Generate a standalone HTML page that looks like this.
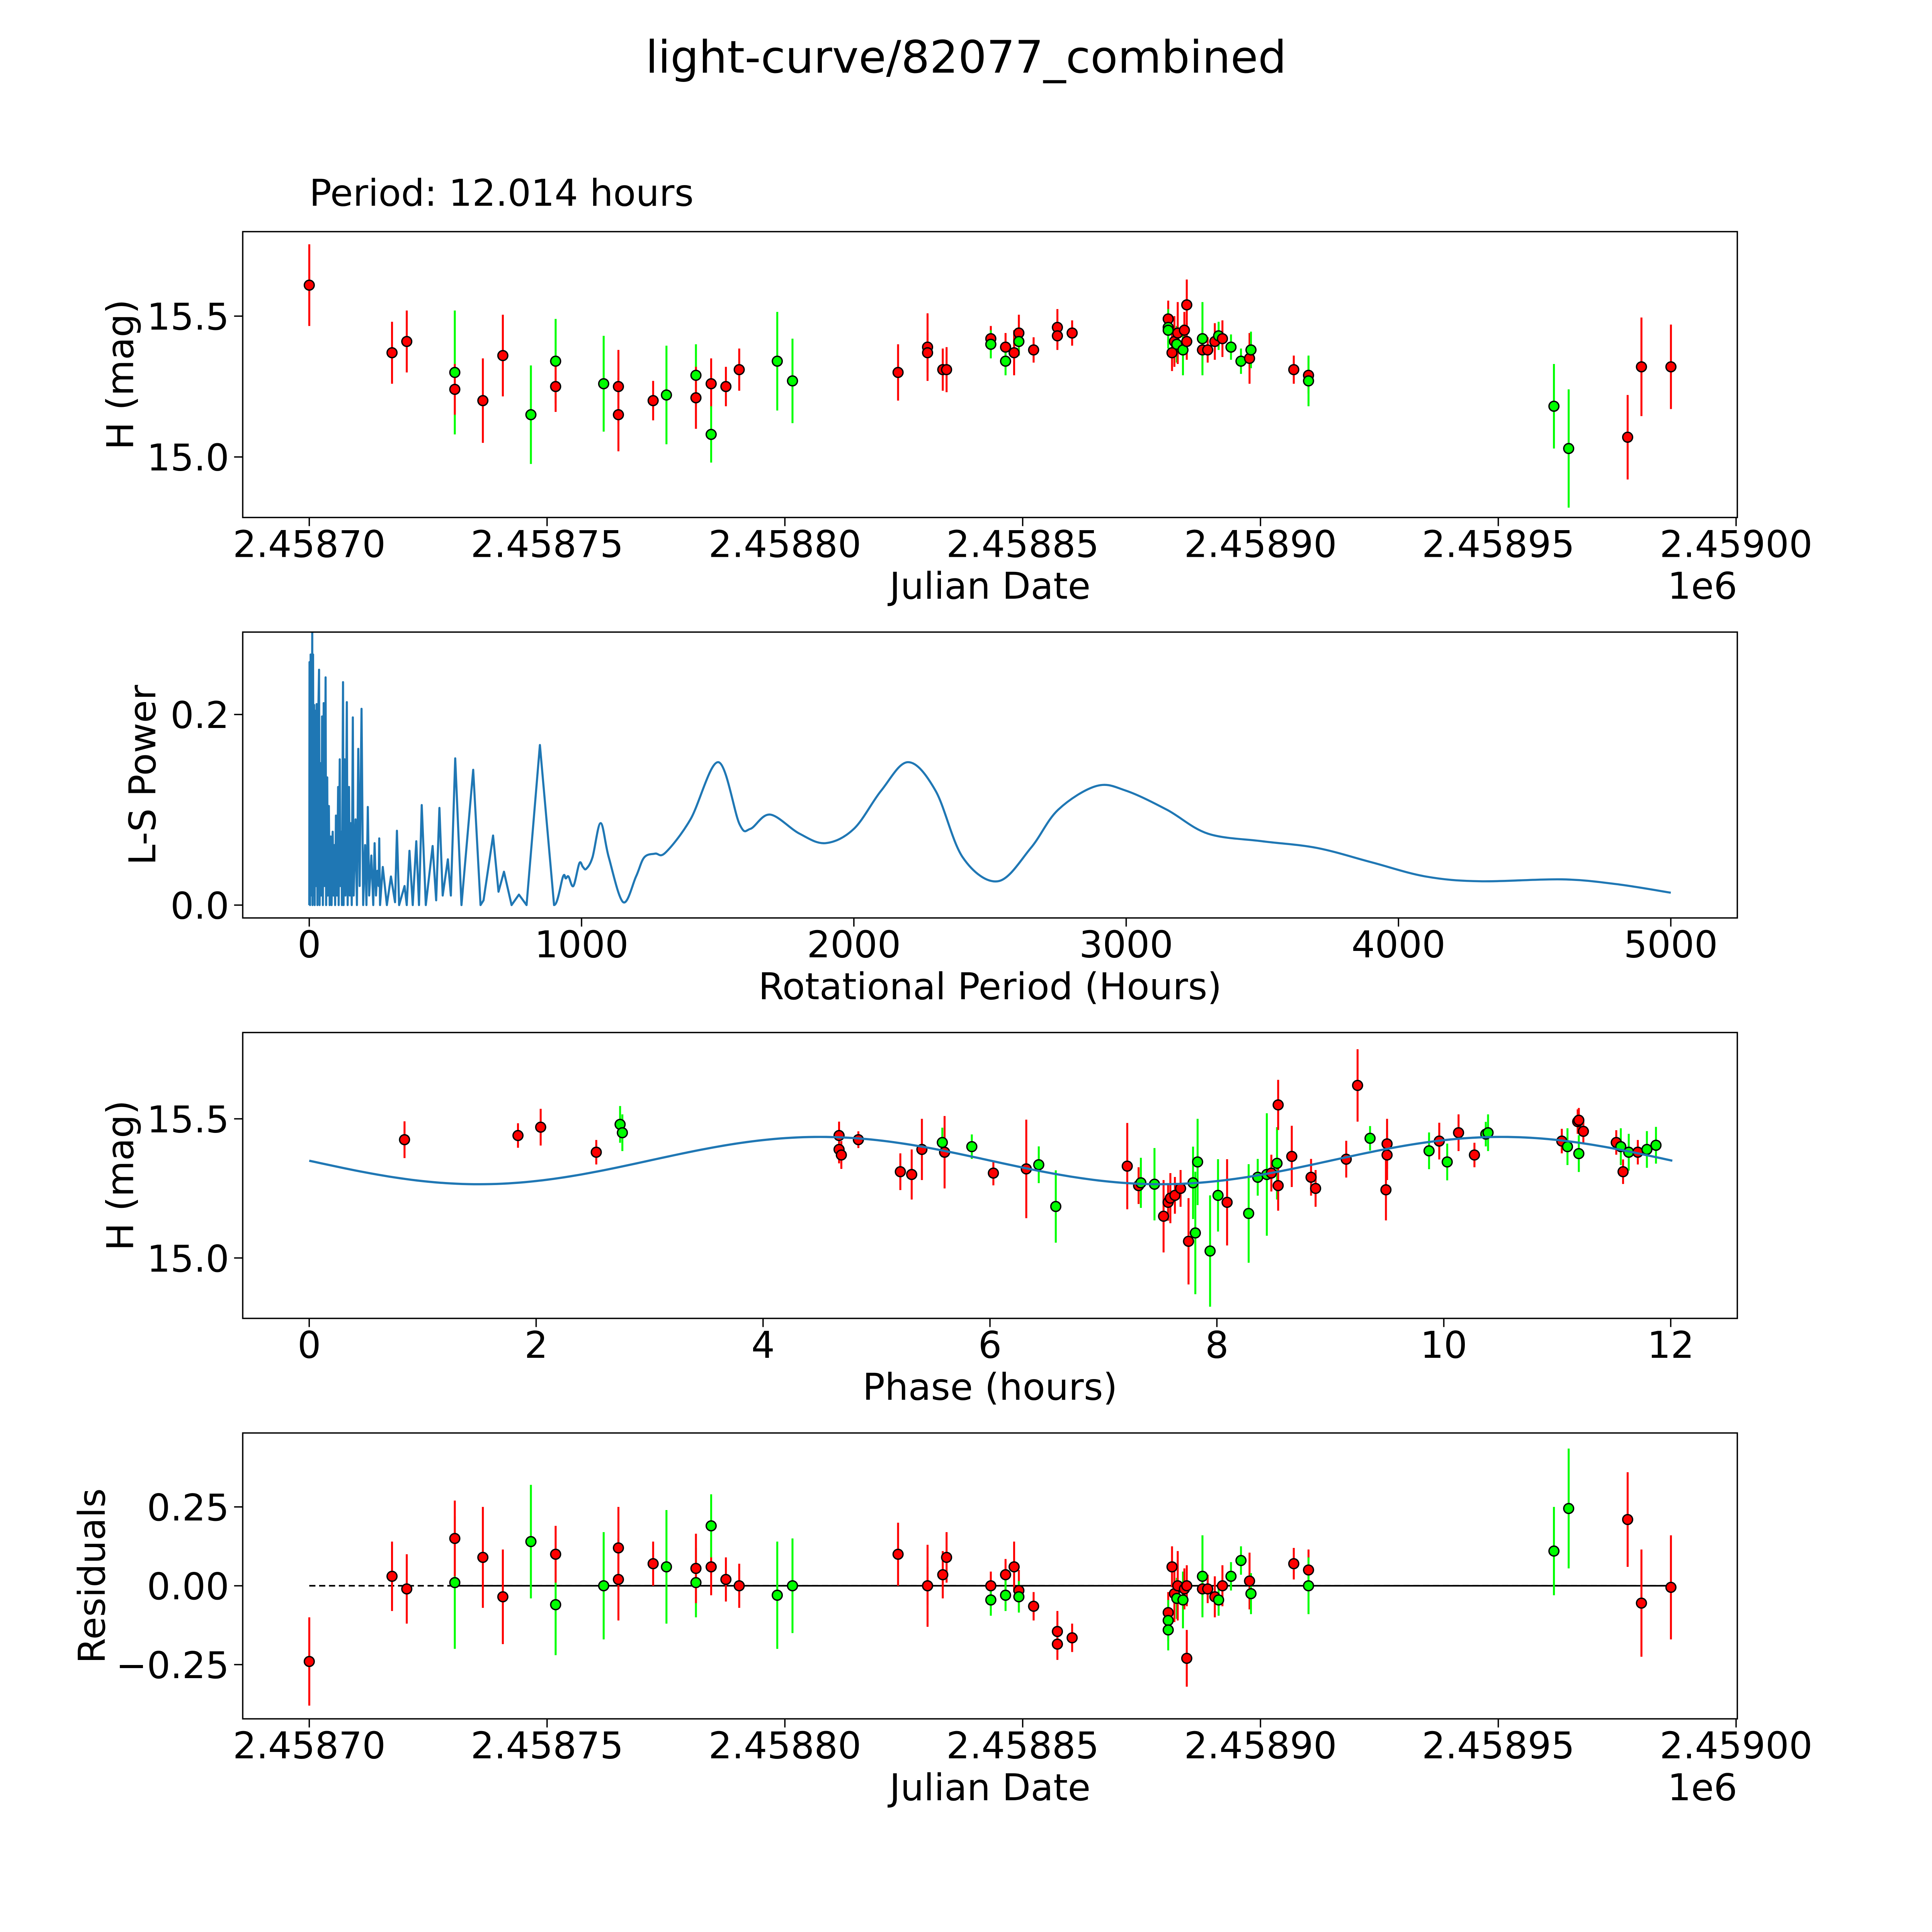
<!DOCTYPE html>
<html><head><meta charset="utf-8">
<style>
html,body{margin:0;padding:0;background:#fff;width:100%;height:100%;overflow:hidden;}
svg{display:block;width:100vw;height:100vh;}
text{font-family:"DejaVu Sans","Liberation Sans",sans-serif;fill:#000;}
</style></head>
<body>
<svg id="fig" xmlns="http://www.w3.org/2000/svg" viewBox="0 0 1568 1568" preserveAspectRatio="xMidYMid meet">
<rect x="0" y="0" width="1568" height="1568" fill="#fff"/>
<text x="784" y="59" font-size="36.3" text-anchor="middle">light-curve/82077_combined</text>
<text x="251" y="167" font-size="30">Period: 12.014 hours</text>
</svg>
<script>
// ---- Panel 1 / 4 data: days from JD 2458700 ----
const lcDays=[0,17.4,20.5,30.6,30.6,36.5,40.7,46.6,51.8,51.8,61.9,65.0,65.0,72.3,75.1,81.3,81.3,84.5,84.5,87.6,90.4,98.4,101.6,123.8,130.0,130.0,133.2,134.0,143.3,143.3,146.4,146.4,148.2,149.2,149.2,152.3,157.3,157.3,160.4,180.6,180.6,180.6,181.4,181.9,182.4,182.6,183.7,184.0,184.5,184.5,187.8,187.8,188.9,190.4,191.2,192.0,193.8,195.9,197.7,198.0,207.0,210.1,210.1,261.7,264.8,277.2,280.1,286.3];
const lcMag=[15.61,15.37,15.41,15.30,15.24,15.20,15.36,15.15,15.34,15.25,15.26,15.25,15.15,15.20,15.22,15.29,15.21,15.26,15.08,15.25,15.31,15.34,15.27,15.30,15.39,15.37,15.31,15.31,15.42,15.40,15.39,15.34,15.37,15.44,15.41,15.38,15.46,15.43,15.44,15.49,15.46,15.45,15.37,15.41,15.40,15.44,15.38,15.45,15.41,15.54,15.38,15.42,15.38,15.41,15.43,15.42,15.39,15.34,15.35,15.38,15.31,15.29,15.27,15.18,15.03,15.07,15.32,15.32];
const lcErr=[.145,.11,.11,.22,.09,.15,.145,.175,.15,.09,.17,.13,.13,.07,.175,.11,.11,.09,.10,.07,.075,.175,.15,.10,.12,.07,.075,.08,.045,.05,.05,.05,.08,.065,.05,.045,.065,.05,.045,.065,.065,.065,.065,.09,.065,.11,.09,.065,.065,.09,.08,.13,.045,.065,.05,.065,.045,.045,.09,.065,.05,.065,.09,.15,.21,.15,.175,.15];
const lcBand=['r','r','r','g','r','r','r','g','g','r','g','r','r','r','g','g','r','r','g','r','r','g','g','r','r','r','r','r','r','g','r','g','r','r','g','r','r','r','r','r','g','g','r','r','g','r','g','r','r','r','r','g','r','r','g','r','g','g','r','g','r','r','g','g','g','r','r','r'];
const resVal=[-0.24,0.03,-0.01,0.01,0.15,0.09,-0.035,0.14,-0.06,0.10,0.00,0.12,0.02,0.07,0.06,0.01,0.055,0.06,0.19,0.02,0.00,-0.03,0.00,0.10,0.00,0.00,0.035,0.09,0.00,-0.045,0.035,-0.03,0.06,-0.015,-0.035,-0.065,-0.145,-0.185,-0.165,-0.085,-0.11,-0.14,0.06,-0.025,-0.04,0.0,-0.045,-0.01,0.0,-0.23,-0.01,0.03,-0.01,-0.035,-0.045,0.0,0.03,0.08,0.015,-0.025,0.07,0.05,0.0,0.11,0.245,0.21,-0.055,-0.005];
const resErr=[.14,.11,.11,.21,.12,.16,.15,.18,.16,.09,.17,.13,.13,.07,.18,.11,.11,.09,.10,.07,.07,.17,.15,.10,.13,.06,.075,.08,.045,.05,.05,.05,.08,.065,.05,.045,.065,.05,.045,.065,.065,.065,.065,.09,.065,.11,.09,.065,.065,.09,.08,.13,.045,.065,.05,.065,.045,.045,.09,.065,.05,.065,.09,.14,.19,.15,.17,.165];
const jdTicks=[0,50,100,150,200,250,300];
const jdTickLabels=['2.45870','2.45875','2.45880','2.45885','2.45890','2.45895','2.45900'];
const magTicks=[15.0,15.5];
const magTickLabels=['15.0','15.5'];
const resTicks=[-0.25,0,0.25];
const resTickLabels=['\u22120.25','0.00','0.25'];
// ---- Periodogram ----
const lsPeriod=[
0,1,3,5,6,8,11,12,14,16,
18,20,22,25,27,30,32,36,38,42,
44,47,50,53,56,60,62,66,68,72,
75,79,82,86,89,92,95,98,102,106,
108,112,114,118,120,124,126,130,133,138,
141,146,149,152,156,160,163,170,175,180,
185,192,198,205,210,215,220,228,235,240,
245,250,255,257,260,270,285,300,315,322,
330,350,358,368,380,393,403,413,428,453,
466,478,490,509,520,536,559,602,629,640,
675,695,715,743,770,798,847,899,932,942,
952,970,992,1005,1017,1040,1070,1100,1153,1200,
1230,1270,1308,1400,1502,1580,1620,1692,1800,1896,
2000,2100,2199,2300,2400,2529,2650,2750,2891,3000,
3150,3300,3500,3700,3900,4100,4300,4600,4800,5000];
const lsPower=[
0,.255,0,.263,.01,.02,.286,0,.263,.01,
.21,0,.204,.02,.211,0,.181,.247,0,.149,
.01,.198,0,.212,.02,.239,0,.134,.01,.104,
0,.072,0,.077,.01,.063,0,.094,.01,.124,
0,.153,.02,.077,0,.234,0,.153,.01,.213,
0,.124,.01,.086,0,.197,.01,.09,0,.164,
.02,.206,0,.063,0,.103,.01,.052,0,.065,
.01,.036,.02,.07,0,.04,0,.03,.003,.078,
0,.02,0,.057,0,.067,0,.105,0,.062,
.005,.102,.01,.048,.01,.154,0,.142,0,.005,
.073,.014,.035,0,.011,0,.168,0,.03,.028,
.03,.02,.044,.04,.038,.05,.086,.05,.003,.03,
.05,.054,.055,.09,.15,.085,.08,.095,.075,.065,
.08,.12,.15,.12,.05,.025,.06,.1,.125,.12,
.1,.075,.067,.06,.045,.03,.025,.027,.022,.013];
const perTicks=[0,1000,2000,3000,4000,5000];
const perTickLabels=['0','1000','2000','3000','4000','5000'];
const powTicks=[0,0.2];
const powTickLabels=['0.0','0.2'];
// ---- Phase-folded ----
const phX=[0.84,1.84,2.04,2.53,2.74,2.76,4.67,4.67,4.69,4.84,5.21,5.31,5.40,5.58,5.60,5.84,6.03,6.32,6.43,6.58,7.21,7.31,7.33,7.45,7.53,7.57,7.59,7.63,7.68,7.75,7.79,7.81,7.83,7.94,8.01,8.09,8.28,8.36,8.44,8.48,8.53,8.54,8.54,8.66,8.83,8.87,9.14,9.24,9.35,9.50,9.50,9.49,9.87,9.96,10.03,10.13,10.27,10.37,10.39,11.04,11.09,11.18,11.19,11.19,11.23,11.52,11.56,11.58,11.63,11.71,11.79,11.87];
const phMag=[15.425,15.44,15.47,15.38,15.48,15.45,15.44,15.39,15.37,15.425,15.31,15.30,15.39,15.415,15.38,15.40,15.305,15.32,15.335,15.185,15.33,15.26,15.27,15.265,15.15,15.20,15.215,15.225,15.25,15.06,15.27,15.09,15.345,15.025,15.225,15.20,15.16,15.29,15.30,15.305,15.34,15.26,15.55,15.365,15.29,15.25,15.355,15.62,15.43,15.41,15.37,15.245,15.385,15.42,15.345,15.45,15.37,15.445,15.45,15.42,15.40,15.49,15.495,15.375,15.455,15.415,15.40,15.31,15.38,15.38,15.39,15.405];
const phErr=[.066,.044,.066,.044,.066,.066,.05,.05,.05,.03,.066,.09,.11,.053,.13,.044,.044,.177,.066,.13,.155,.066,.09,.13,.13,.066,.09,.066,.066,.155,.13,.22,.155,.2,.13,.155,.177,.066,.22,.066,.13,.09,.09,.11,.066,.066,.066,.13,.044,.09,.09,.11,.066,.066,.066,.066,.044,.044,.066,.044,.066,.044,.044,.066,.044,.044,.066,.044,.066,.044,.066,.066];
const phBand=['r','r','r','r','g','g','r','r','r','r','r','r','r','g','r','g','r','r','g','g','r','r','g','g','r','r','r','r','r','r','g','g','g','g','g','r','g','g','g','r','g','r','r','r','r','r','r','r','g','r','r','r','g','r','g','r','r','g','g','r','g','r','r','g','r','r','g','r','g','r','g','g'];
const phTicks=[0,2,4,6,8,10,12];
const phTickLabels=['0','2','4','6','8','10','12'];
const fitMean=15.35, fitAmp=0.085, fitPeak=4.5, fitCycle=6.007, fitSpan=12.014;

const NS='http://www.w3.org/2000/svg';
const svg=document.getElementById('fig');
const COL={r:'#ff0000',g:'#00ff00'};
const FS=30;
function mk(tag,attrs,parent){const e=document.createElementNS(NS,tag);for(const k in attrs)e.setAttribute(k,attrs[k]);(parent||svg).appendChild(e);return e;}
function scale(d0,d1,p0,p1){return v=>p0+(v-d0)/(d1-d0)*(p1-p0);}

function panel(name,top,xd,yd){
  const g=mk('g',{});
  
  
  const L=197,R=1410,T=top,B=top+232;
  return {g,L,R,T,B,x:scale(xd[0],xd[1],L,R),y:scale(yd[0],yd[1],B,T)};
}
function frame(p){
  const r=mk('rect',{x:p.L,y:p.T,width:p.R-p.L,height:p.B-p.T,fill:'none',stroke:'#000','stroke-width':1.1},p.g);
  
  
}
function xticks(p,ticks,labels){
  ticks.forEach((t,i)=>{
    const X=p.x(t);
    const l=mk('line',{x1:X,x2:X,y1:p.B,y2:p.B+7,stroke:'#000','stroke-width':1.1},p.g);
    
    
    const tx=mk('text',{x:X,y:p.B+32,'font-size':FS,'text-anchor':'middle'},p.g);
    tx.textContent=labels[i];
    
    
  });
}
function yticks(p,ticks,labels){
  ticks.forEach((t,i)=>{
    const Y=p.y(t);
    const l=mk('line',{x1:p.L-7,x2:p.L,y1:Y,y2:Y,stroke:'#000','stroke-width':1.1},p.g);
    
    
    const tx=mk('text',{x:p.L-11,y:Y+11,'font-size':FS,'text-anchor':'end'},p.g);
    tx.textContent=labels[i];
    
    
  });
}
function labels(p,xl,yl,ylx,sci){
  const a=mk('text',{x:(p.L+p.R)/2,y:p.B+66,'font-size':FS,'text-anchor':'middle'},p.g);
  a.textContent=xl;
  
  
  const cy=(p.T+p.B)/2;
  const b=mk('text',{x:ylx,y:cy,'font-size':FS,'text-anchor':'middle',transform:`rotate(-90 ${ylx} ${cy})`},p.g);
  b.textContent=yl;
  
  
  if(sci){
    const c=mk('text',{x:p.R,y:p.B+66,'font-size':FS,'text-anchor':'end'},p.g);
    c.textContent='1e6';
    
    
  }
}
function points(p,xs,ys,es,bands){
  xs.forEach((xv,i)=>{
    const X=p.x(xv);
    const l=mk('line',{x1:X,x2:X,y1:p.y(ys[i]-es[i]),y2:p.y(ys[i]+es[i]),stroke:COL[bands[i]],'stroke-width':1.6},p.g);
    
    
  });
  xs.forEach((xv,i)=>{
    const c=mk('circle',{cx:p.x(xv),cy:p.y(ys[i]),r:4,fill:COL[bands[i]],stroke:'#000','stroke-width':1.1},p.g);
    
    
  });
}

// Panel 1
const p1=panel('light-curve-panel',188,[-13.99,300.26],[14.785,15.80]);
points(p1,lcDays,lcMag,lcErr,lcBand);
frame(p1);xticks(p1,jdTicks,jdTickLabels);yticks(p1,magTicks,magTickLabels);
labels(p1,'Julian Date','H (mag)',108,true);

// Panel 2
const p2=panel('periodogram-panel',513,[-244.3,5244.3],[-0.0135,0.2865]);
{
  const n=Math.min(lsPeriod.length,lsPower.length);
  const P=[];
  for(let i=0;i<n;i++)P.push([p2.x(lsPeriod[i]),p2.y(lsPower[i]),lsPeriod[i]]);
  const y0=p2.y(0);
  let d='M'+P[0][0].toFixed(2)+','+P[0][1].toFixed(2);
  for(let i=1;i<n;i++){
    if(P[i-1][2]<899){d+='L'+P[i][0].toFixed(2)+','+P[i][1].toFixed(2);}
    else{
      const a=P[Math.max(i-2,0)],b=P[i-1],c=P[i],e=P[Math.min(i+1,n-1)];
      const c1x=b[0]+(c[0]-a[0])/6,c1y=Math.min(y0,b[1]+(c[1]-a[1])/6);
      const c2x=c[0]-(e[0]-b[0])/6,c2y=Math.min(y0,c[1]-(e[1]-b[1])/6);
      d+='C'+c1x.toFixed(2)+','+c1y.toFixed(2)+' '+c2x.toFixed(2)+','+c2y.toFixed(2)+' '+c[0].toFixed(2)+','+c[1].toFixed(2);
    }
  }
  const pa=mk('path',{d,fill:'none',stroke:'#1f77b4','stroke-width':1.7,'stroke-linejoin':'round'},p2.g);
  
  
}
frame(p2);xticks(p2,perTicks,perTickLabels);yticks(p2,powTicks,powTickLabels);
labels(p2,'Rotational Period (Hours)','L-S Power',126,false);

// Panel 3
const p3=panel('phase-folded-panel',838,[-0.586,12.587],[14.783,15.81]);
points(p3,phX,phMag,phErr,phBand);
{
  let d='';
  for(let i=0;i<=240;i++){const t=fitSpan*i/240;const m=fitMean+fitAmp*Math.cos(2*Math.PI*(t-fitPeak)/fitCycle);d+=(i?'L':'M')+p3.x(t).toFixed(2)+','+p3.y(m).toFixed(2);}
  const pa=mk('path',{d,fill:'none',stroke:'#1f77b4','stroke-width':1.8},p3.g);
  
  
}
frame(p3);xticks(p3,phTicks,phTickLabels);yticks(p3,magTicks,magTickLabels);
labels(p3,'Phase (hours)','H (mag)',108,false);

// Panel 4
const p4=panel('residuals-panel',1163,[-13.99,300.26],[-0.4219,0.4844]);
{
  const z1=mk('line',{x1:p4.x(lcDays[0]),x2:p4.x(lcDays[lcDays.length-1]),y1:p4.y(0),y2:p4.y(0),stroke:'#000','stroke-width':1.3,'stroke-dasharray':'5,3'},p4.g);
  
  
  const z2=mk('line',{x1:p4.x(lcDays[3]),x2:p4.x(lcDays[lcDays.length-1]),y1:p4.y(0),y2:p4.y(0),stroke:'#000','stroke-width':1.3},p4.g);
  
  
}
points(p4,lcDays,resVal,resErr,lcBand);
frame(p4);xticks(p4,jdTicks,jdTickLabels);yticks(p4,resTicks,resTickLabels);
labels(p4,'Julian Date','Residuals',85,true);
</script>
</body></html>
